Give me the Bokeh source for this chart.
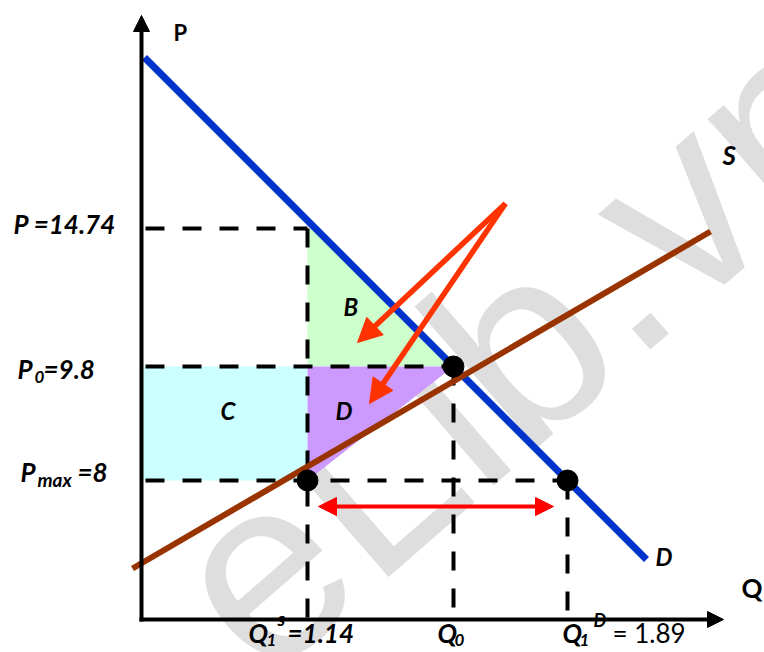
import numpy as np
from bokeh.plotting import figure
from bokeh.models import Range1d, Arrow, NormalHead, Label
from bokeh.embed import file_html
from bokeh.resources import INLINE

# ---------------- data (schematic chart units, origin = axis corner) ----------------
price_names = ["P", "P0", "Pmax"]
price_values = ["14.74", "9.8", "8"]
price_pos = [391, 253, 139]          # P (ceiling demand price), P0, Pmax
quantity_names = ["Q1s", "Q0", "Q1D"]
quantity_values = ["1.14", "", "1.89"]
quantity_pos = [166, 312, 426]       # Q1s, Q0, Q1D
demand_q = [3, 505]
demand_p = [562, 60]
supply_q = [-9, 569]
supply_p = [51, 388]
area_names = ["B", "C", "D"]


def q_demand(price):
    return float(np.interp(price, demand_p[::-1], demand_q[::-1]))


P1, P0, PM = price_pos
QS, Q0, QD = quantity_pos

p = figure(width=764, height=652, x_range=Range1d(-141, 623), y_range=Range1d(-33, 619),
           x_axis_type=None, y_axis_type=None, output_backend="svg",
           toolbar_location=None, min_border=0, outline_line_color=None)
p.background_fill_color = "white"
p.border_fill_color = "white"

# watermark
p.add_layout(Label(x=378, y=275, text="eLib.vn", angle=np.deg2rad(41),
                   text_align="center", text_baseline="alphabetic",
                   text_font="Liberation Sans", text_font_size="258px",
                   text_color="#DEDEDE", level="underlay"))

# shaded areas
p.quad(left=[0], right=[QS], bottom=[PM], top=[P0], fill_color="#CCFFFF", line_color=None)
p.patch([QS, q_demand(P1), q_demand(P0), QS], [P1, P1, P0, P0],
        fill_color="#CCFFCC", line_color=None)
p.patch([QS, Q0, QS], [P0, P0, PM], fill_color="#CC99FF", line_color=None)

# dashed guide lines
xs = [[4, QS], [4, Q0], [4, QD], [QS, QS], [Q0, Q0], [QD, QD]]
ys = [[P1, P1], [P0, P0], [PM, PM], [P1, 0], [P0, 0], [PM, 0]]
p.multi_line(xs, ys, line_color="black", line_width=4, line_dash="19 18")

# demand and supply
p.line(demand_q, demand_p, line_color="#0033CC", line_width=7)
p.line(supply_q, supply_p, line_color="#993300", line_width=6)

# points
p.scatter([QS, Q0, QD], [PM, P0, PM], size=21, color="black")

# red arrows pointing into B and D
for tx, ty in [(216, 277), (228, 216)]:
    p.add_layout(Arrow(end=NormalHead(size=24, fill_color="#FF3300", line_color="#FF3300", line_width=1),
                       x_start=364, y_start=416, x_end=tx, y_end=ty,
                       line_color="#FF3300", line_width=5.5))

# shortage double arrow
p.add_layout(Arrow(start=NormalHead(size=18, fill_color="#FF0000", line_color="#FF0000", line_width=1),
                   end=NormalHead(size=18, fill_color="#FF0000", line_color="#FF0000", line_width=1),
                   x_start=QS + 11, y_start=PM - 26, x_end=QD - 14, y_end=PM - 26,
                   line_color="#FF0000", line_width=4))

# axes
p.add_layout(Arrow(end=NormalHead(size=16, fill_color="black", line_color="black", line_width=1),
                   x_start=0, y_start=-2, x_end=0, y_end=604, line_color="black", line_width=4))
p.add_layout(Arrow(end=NormalHead(size=16, fill_color="black", line_color="black", line_width=1),
                   x_start=-2, y_start=0, x_end=582, y_end=0, line_color="black", line_width=4))


def lab(x, y, text, size, style="bold italic", xo=0, yo=0, align="left", font="Lato"):
    # the baseline of a rendered label sits ~0.48em lower than its anchor: compensate
    p.add_layout(Label(x=x, y=y, x_offset=xo, y_offset=yo + 0.48 * size, text=text, text_font=font,
                       text_font_size=f"{size}px", text_font_style=style, text_align=align,
                       text_baseline="alphabetic", text_color="black"))


# axis titles and curve names
lab(32, 576, "P", 22, "bold")
lab(600, 19, "Q", 26, "bold")
lab(581, 452, "S", 26)
lab(514, 51, "D", 24)

# area letters
lab(202, 301, area_names[0], 24)
lab(79, 197, area_names[1], 24)
lab(194, 197, area_names[2], 24)

# price labels
lab(-128, P1, f"P ={price_values[0]}", 26, yo=-8)
lab(-124, P0, "P", 26, yo=-15)
lab(-107, P0, "0", 17, yo=-19)
lab(-98, P0, f"={price_values[1]}", 26, yo=-15)
lab(-121, PM, "P", 26, yo=-4)
lab(-104, PM, "max", 19, yo=-8)
lab(-64, PM, f"={price_values[2]}", 26, yo=-4)

# quantity labels
lab(QS, 0, "Q", 26, xo=-59, yo=-26)
lab(QS, 0, "1", 17, xo=-41, yo=-29)
lab(QS, 0, "s", 19, xo=-30, yo=-8)
lab(QS, 0, f"={quantity_values[0]}", 26, xo=-20, yo=-26)
lab(Q0, 0, "Q", 26, xo=-16, yo=-26)
lab(Q0, 0, "0", 17, xo=1, yo=-29)
lab(QD, 0, "Q", 26, xo=-5, yo=-26)
lab(QD, 0, "1", 17, xo=12, yo=-29)
lab(QD, 0, "D", 18, xo=26, yo=-9)
lab(QD, 0, f"= {quantity_values[2]}", 26, "normal", xo=45, yo=-26)

open("out.html", "w").write(file_html(p, INLINE))
